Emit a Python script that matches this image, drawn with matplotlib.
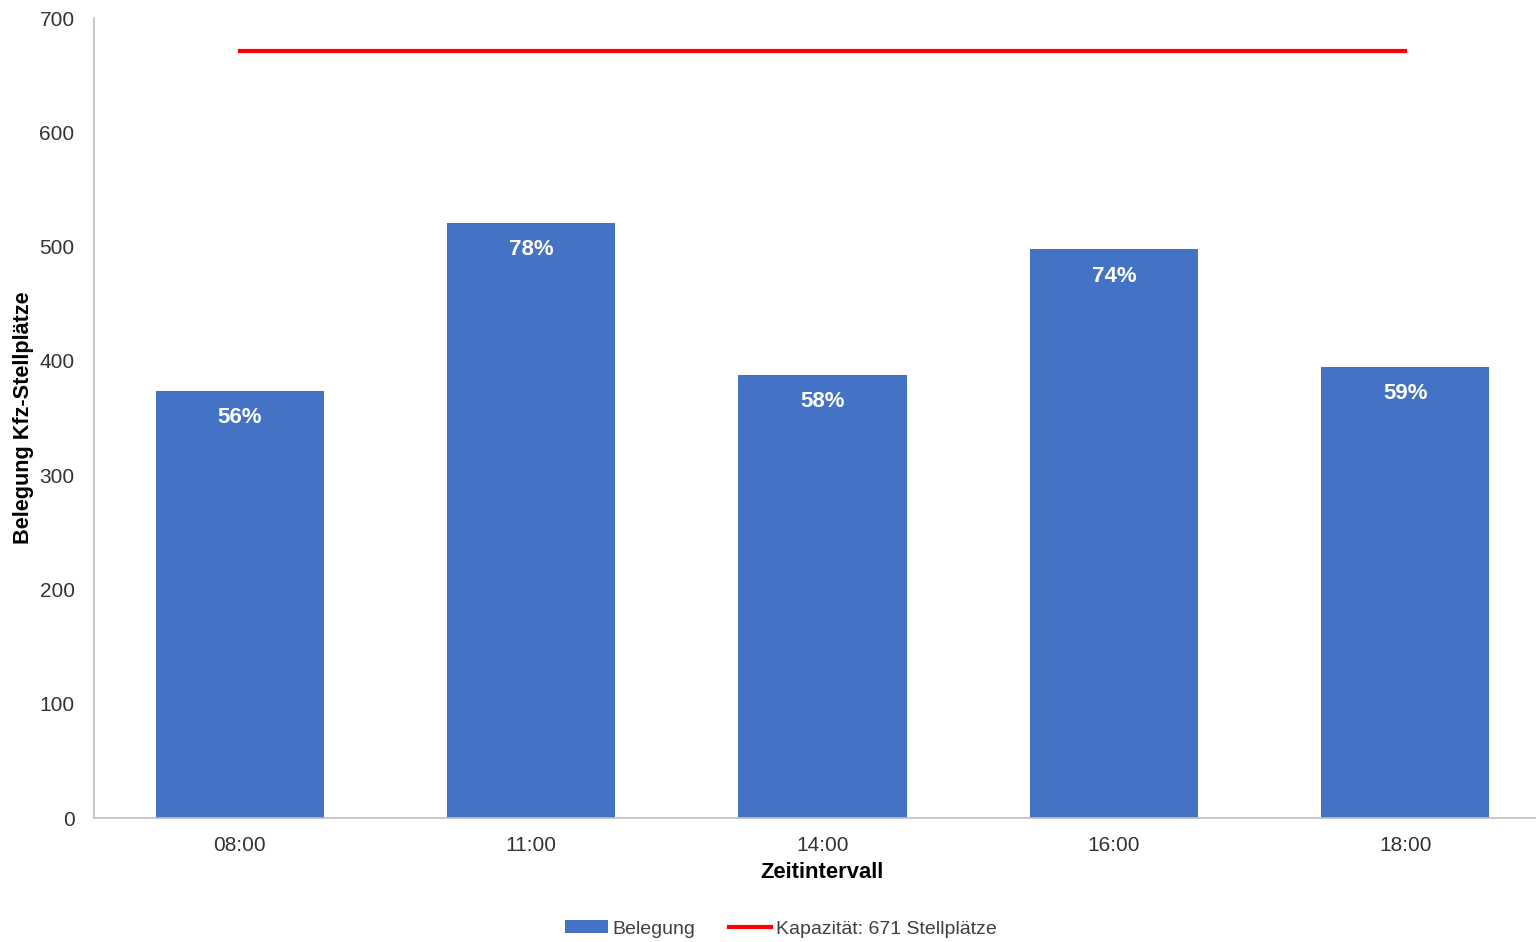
import matplotlib
matplotlib.use("Agg")
import matplotlib.pyplot as plt
from matplotlib.patches import Patch
from matplotlib.lines import Line2D

plt.rcParams['font.family'] = ['Liberation Sans', 'DejaVu Sans']

zeiten = ["08:00", "11:00", "14:00", "16:00", "18:00"]
belegung = [374, 521, 388, 498, 395]
prozent_labels = ["56%", "78%", "58%", "74%", "59%"]
kapazitaet = 671
y_ticks = [0, 100, 200, 300, 400, 500, 600, 700]

bar_color = "#4472C4"
line_color = "#FF0000"
axis_grey = "#BFBFBF"
text_grey = "#404040"

fig = plt.figure(figsize=(15.36, 9.42), dpi=100)
ax = fig.add_axes([94 / 1536, (942 - 818) / 942, (1551 - 94) / 1536, 800 / 942])

x = list(range(len(zeiten)))
bars = ax.bar(x, belegung, width=0.577, color=bar_color, zorder=2)
ax.plot([x[0], x[-1]], [kapazitaet, kapazitaet], color=line_color, lw=3, zorder=3)

for rect, lab in zip(bars, prozent_labels):
    ax.annotate(lab, (rect.get_x() + rect.get_width() / 2, rect.get_height()),
                xytext=(0, -12), textcoords="offset points", ha="center", va="top",
                color="white", fontsize=16, fontweight="bold")

ax.set_xlim(-0.5, 4.5)
ax.set_ylim(0, 700)
ax.set_yticks(y_ticks)
ax.set_xticks(x)
ax.set_xticklabels(zeiten)
ax.tick_params(axis="both", length=0, labelsize=15, colors="#333333")
ax.tick_params(axis="x", pad=13)
ax.tick_params(axis="y", pad=14)

for side in ["top", "right"]:
    ax.spines[side].set_visible(False)
ax.spines["left"].set_color(axis_grey)
ax.spines["bottom"].set_color(axis_grey)
ax.spines["left"].set_linewidth(1.2)
ax.spines["bottom"].set_linewidth(1.2)

ax.set_xlabel("Zeitintervall", fontsize=15.8, fontweight="bold", labelpad=5)
ax.set_ylabel("Belegung Kfz-Stellplätze", fontsize=15.6, fontweight="bold", labelpad=4)
ax.xaxis.label.set_position(((822 - 94) / (1551 - 94), 0))

handles = [Patch(facecolor=bar_color, edgecolor="none"),
           Line2D([0], [0], color=line_color, lw=3)]
fig.legend(handles, ["Belegung", "Kapazität: 671 Stellplätze"],
           loc="center", bbox_to_anchor=(781 / 1536, 1 - 929 / 942), ncol=2,
           frameon=False, fontsize=14, handlelength=2.2, handleheight=0.6,
           handletextpad=0.25, columnspacing=1.7, labelcolor=text_grey)

fig.savefig("out.png", dpi=100)
